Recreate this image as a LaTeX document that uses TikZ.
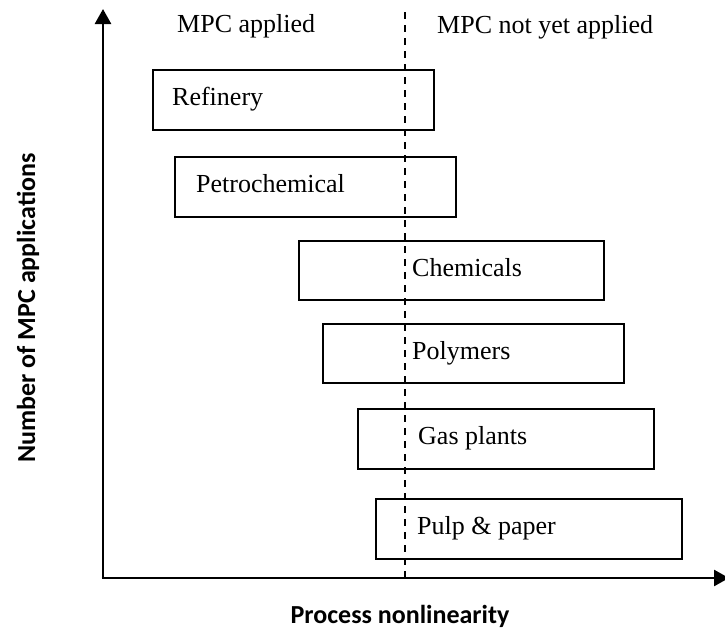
\documentclass[tikz,border=0pt]{standalone}
\usepackage{fontspec}
\setmainfont{Liberation Serif}
\newfontfamily\labelfont{Carlito}
\usetikzlibrary{arrows.meta}
\begin{document}
\begin{tikzpicture}[x=1pt,y=-1pt,
  sector/.style={draw,line width=1.8pt,rectangle,inner sep=0pt,anchor=north west},
  sectortext/.style={font=\fontsize{26}{30}\selectfont,anchor=base west,inner sep=0pt},
  axis/.style={line width=2.6pt,-{Triangle[length=15pt,width=16pt]}},
  axislabel/.style={font=\labelfont\bfseries\fontsize{26}{30}\selectfont}]
\useasboundingbox (0,0) rectangle (725,629);
% axes
\coordinate (o) at (103,578);
\coordinate (ytop) at (103,9);
\coordinate (xend) at (729,578);
\draw[axis] ([yshift=1.3pt]o) -- (ytop);
\draw[axis] ([xshift=-1.3pt]o) -- (xend);
% boundary between applied and not yet applied
\coordinate (dtop) at (405,12);
\coordinate (dbot) at (405,578);
\draw[line width=1.5pt,dash pattern=on 7pt off 6pt] (dtop) -- (dbot);
% region headings
\node[sectortext] (hl) at (177,32) {MPC applied};
\node[sectortext] (hr) at (437,33) {MPC not yet applied};
% industry sectors
\node[sector,minimum width=281pt,minimum height=60pt] (ref) at (152,69) {};
\node[sectortext] (reft) at (172,105) {Refinery};
\node[sector,minimum width=281pt,minimum height=60pt] (pet) at (174,156) {};
\node[sectortext] (pett) at (196,192) {Petrochemical};
\node[sector,minimum width=305pt,minimum height=59pt] (che) at (298,240) {};
\node[sectortext] (chet) at (412,276) {Chemicals};
\node[sector,minimum width=301pt,minimum height=59pt] (pol) at (322,323) {};
\node[sectortext] (polt) at (412,359) {Polymers};
\node[sector,minimum width=296pt,minimum height=60pt] (gas) at (357,408) {};
\node[sectortext] (gast) at (418,444) {Gas plants};
\node[sector,minimum width=306pt,minimum height=60pt] (pul) at (375,498) {};
\node[sectortext] (pult) at (417,534) {Pulp \& paper};
% axis labels
\node[axislabel,inner sep=0pt,anchor=base] (xl) at (400,623) {Process nonlinearity};
\node[axislabel,rotate=90] (yl) at (28,308) {Number of MPC applications};
\end{tikzpicture}
\end{document}
